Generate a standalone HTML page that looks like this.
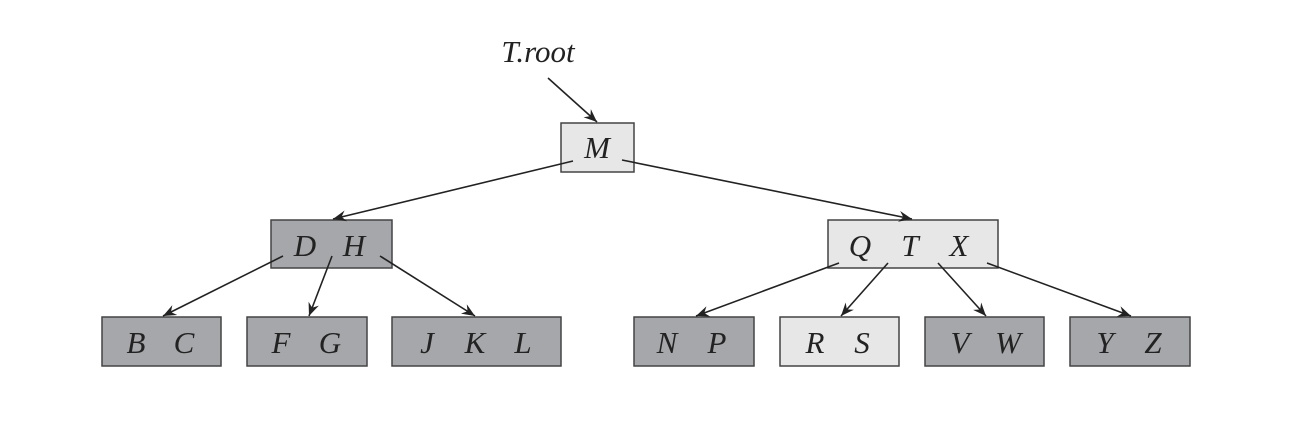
<!DOCTYPE html>
<html><head><style>body{margin:0;background:#fff}svg{display:block}</style></head><body>
<svg width="1304" height="426" xmlns="http://www.w3.org/2000/svg">
<defs><marker id="a" viewBox="0 0 12 10" refX="12" refY="5" markerWidth="14" markerHeight="11" markerUnits="userSpaceOnUse" orient="auto"><path d="M0,0 L12,5 L0,10 L4,5 z" fill="#222"/></marker></defs>
<g stroke="#444" stroke-width="1.5">
<rect x="561" y="123" width="73" height="49" fill="#e6e7e6"/>
<rect x="271" y="220" width="121" height="48" fill="#a6a7aa"/>
<rect x="828" y="220" width="170" height="48" fill="#e6e7e6"/>
<rect x="102" y="317" width="119" height="49" fill="#a6a7aa"/>
<rect x="247" y="317" width="120" height="49" fill="#a6a7aa"/>
<rect x="392" y="317" width="169" height="49" fill="#a6a7aa"/>
<rect x="634" y="317" width="120" height="49" fill="#a6a7aa"/>
<rect x="780" y="317" width="119" height="49" fill="#e6e7e6"/>
<rect x="925" y="317" width="119" height="49" fill="#a6a7aa"/>
<rect x="1070" y="317" width="120" height="49" fill="#a6a7aa"/>
</g>
<g stroke="#222" stroke-width="1.6" marker-end="url(#a)">
<line x1="548" y1="78" x2="597" y2="122"/>
<line x1="573" y1="161" x2="333" y2="219"/>
<line x1="622" y1="160" x2="912" y2="219"/>
<line x1="283" y1="256" x2="163" y2="316"/>
<line x1="332" y1="256" x2="309" y2="316"/>
<line x1="380" y1="256" x2="475" y2="316"/>
<line x1="839" y1="263" x2="696" y2="316"/>
<line x1="888" y1="263" x2="841" y2="316"/>
<line x1="938" y1="263" x2="986" y2="316"/>
<line x1="987" y1="263" x2="1131" y2="316"/>
</g>
<g font-family="Liberation Serif, serif" font-style="italic" font-size="31" fill="#222" text-anchor="middle">
<text x="538" y="62">T.root</text>
<text x="597" y="158">M</text>
<text x="305" y="256">D</text><text x="354" y="256">H</text>
<text x="860" y="256">Q</text><text x="910" y="256">T</text><text x="959" y="256">X</text>
<text x="136" y="353">B</text><text x="184" y="353">C</text>
<text x="281" y="353">F</text><text x="330" y="353">G</text>
<text x="427" y="353">J</text><text x="475" y="353">K</text><text x="523" y="353">L</text>
<text x="667" y="353">N</text><text x="717" y="353">P</text>
<text x="815" y="353">R</text><text x="862" y="353">S</text>
<text x="960" y="353">V</text><text x="1008" y="353">W</text>
<text x="1105" y="353">Y</text><text x="1153" y="353">Z</text>
</g>
</svg>
</body></html>
